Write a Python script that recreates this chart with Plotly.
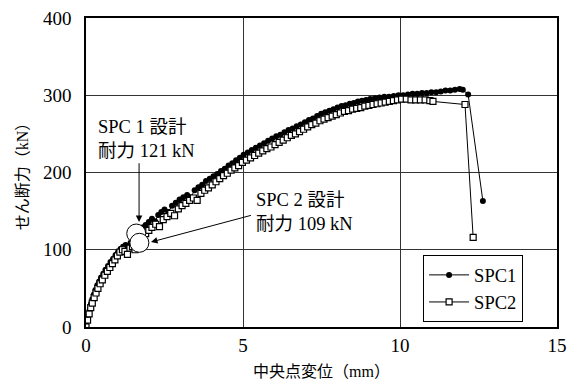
import plotly.graph_objects as go

# ---- data ----
spc1_x = [0.00, 0.04, 0.08, 0.12, 0.16, 0.20, 0.25, 0.30, 0.36, 0.42, 0.48, 0.55, 0.62, 0.70, 0.78,
          0.86, 0.94, 1.02, 1.10, 1.18, 1.26, 1.34, 1.42, 1.50, 1.58, 1.66, 1.74, 1.82, 1.90, 2.00,
          2.10, 2.20, 2.30, 2.40, 2.50, 2.62, 2.74, 2.86, 2.98, 3.10, 3.22, 3.34, 3.46, 3.58, 3.70,
          3.82, 3.94, 4.06, 4.18, 4.30, 4.42, 4.54, 4.66, 4.78, 4.90, 5.02, 5.15, 5.28, 5.41, 5.54,
          5.67, 5.80, 5.93, 6.06, 6.19, 6.32, 6.45, 6.58, 6.71, 6.84, 6.97, 7.10, 7.23, 7.36, 7.49,
          7.62, 7.75, 7.88, 8.01, 8.14, 8.27, 8.40, 8.53, 8.66, 8.79, 8.92, 9.05, 9.20, 9.35, 9.50,
          9.65, 9.80, 9.95, 10.10, 10.25, 10.40, 10.55, 10.70, 10.85, 11.00, 11.15, 11.30, 11.45,
          11.60, 11.75, 11.90, 12.00, 12.17, 12.64]
spc1_y = [0, 8, 16, 23, 30, 36, 42, 48, 54, 59, 64, 69, 74, 79, 84,
          88, 93, 97, 101, 104, 106, 101, 109, 113, 117, 121, 125, 129, 132, 136,
          140, 137, 145, 149, 152, 149, 157, 161, 165, 168, 171, 168, 177, 181, 184,
          189, 192, 195, 198, 202, 205, 209, 212, 216, 219, 223, 226, 229, 232, 235,
          238, 241, 244, 247, 249, 252, 255, 257, 260, 262, 265, 268, 270, 273, 276,
          278, 280, 282, 284, 286, 287, 289, 290, 292, 293, 294, 295, 296, 297, 298,
          298, 299, 300, 300, 301, 302, 302, 303, 303, 304, 304, 305, 306,
          306, 307, 308, 307, 301, 163]

spc2_x = [0.00, 0.05, 0.10, 0.15, 0.20, 0.26, 0.32, 0.38, 0.45, 0.52, 0.60, 0.68, 0.76, 0.84, 0.92,
          1.00, 1.08, 1.16, 1.24, 1.32, 1.40, 1.48, 1.56, 1.64, 1.72, 1.80, 1.90, 2.00, 2.10, 2.22,
          2.34, 2.46, 2.58, 2.70, 2.82, 2.94, 3.06, 3.18, 3.30, 3.42, 3.54, 3.66, 3.78, 3.90, 4.02,
          4.14, 4.26, 4.38, 4.50, 4.62, 4.74, 4.86, 4.98, 5.11, 5.24, 5.37, 5.50, 5.63, 5.76, 5.89,
          6.02, 6.15, 6.28, 6.41, 6.54, 6.67, 6.80, 6.93, 7.06, 7.19, 7.32, 7.45, 7.58, 7.71, 7.84,
          7.97, 8.10, 8.23, 8.36, 8.49, 8.62, 8.75, 8.88, 9.01, 9.14, 9.27, 9.40, 9.53, 9.66, 9.79,
          9.92, 10.05, 10.20, 10.35, 10.50, 10.65, 10.80, 10.95, 11.05, 12.07, 12.33]
spc2_y = [0, 9, 17, 25, 31, 38, 44, 50, 56, 61, 67, 72, 77, 82, 87,
          92, 97, 100, 98, 94, 102, 104, 100, 106, 109, 113, 121, 125, 129, 133,
          130, 139, 143, 147, 144, 153, 157, 160, 164, 167, 164, 173, 177, 180, 184,
          188, 192, 196, 199, 203, 206, 209, 213, 216, 219, 222, 225, 228, 231, 233,
          236, 239, 242, 245, 248, 250, 253, 256, 259, 262, 264, 267, 269, 271, 273,
          275, 277, 279, 280, 282, 283, 284, 286, 287, 288, 289, 290, 291, 292, 293,
          294, 295, 295, 294, 294, 294, 294, 293, 292, 288, 116]

design_x = [1.60, 1.70]
design_y = [121, 109]

x_ticks = [0, 5, 10, 15]
y_ticks = [0, 100, 200, 300, 400]

SERIF = "Liberation Serif, Noto Sans CJK JP, serif"

fig = go.Figure()
fig.add_trace(go.Scatter(
    x=spc1_x, y=spc1_y, mode="lines+markers", name="SPC1",
    line=dict(color="black", width=1),
    marker=dict(symbol="circle", size=6, color="black"),
))
fig.add_trace(go.Scatter(
    x=spc2_x, y=spc2_y, mode="lines+markers", name="SPC2",
    line=dict(color="black", width=1),
    marker=dict(symbol="square", size=6, color="white", line=dict(color="black", width=1.2)),
))
fig.add_trace(go.Scatter(
    x=design_x, y=design_y, mode="markers", showlegend=False, hoverinfo="skip",
    marker=dict(symbol="circle", size=19, color="white", line=dict(color="black", width=1)),
))

annos = [
    dict(x=0.33, y=244, xref="x", yref="y", text="SPC 1 設計<br>耐力 121 kN", showarrow=False,
         xanchor="left", yanchor="middle", align="left"),
    dict(x=5.36, y=149, xref="x", yref="y", text="SPC 2 設計<br>耐力 109 kN", showarrow=False,
         xanchor="left", yanchor="middle", align="left"),
    dict(x=1.69, y=136, ax=1.69, ay=214, xref="x", yref="y", axref="x", ayref="y", text="",
         showarrow=True, arrowhead=2, arrowsize=1.3, arrowwidth=1, arrowcolor="black"),
    dict(x=2.07, y=110, ax=5.3, ay=145, xref="x", yref="y", axref="x", ayref="y", text="",
         showarrow=True, arrowhead=2, arrowsize=1.3, arrowwidth=1, arrowcolor="black"),
]
for a in annos:
    a["font"] = dict(family=SERIF, size=18.5, color="black")
fig.update_layout(annotations=annos)

fig.update_layout(
    width=569, height=382,
    margin=dict(l=86, r=12, t=18, b=55),
    paper_bgcolor="white", plot_bgcolor="white",
    font=dict(family=SERIF, size=19, color="black"),
    showlegend=True,
    legend=dict(x=0.928, xanchor="right", y=0.015, yanchor="bottom",
                bordercolor="black", borderwidth=1, bgcolor="white",
                font=dict(family=SERIF, size=18.5, color="black"),
                tracegroupgap=0, itemwidth=40),
)
fig.update_xaxes(
    range=[0, 15], tickvals=x_ticks, ticktext=[str(v) for v in x_ticks],
    showgrid=True, gridcolor="#333", gridwidth=1, zeroline=False, automargin=False,
    showline=True, mirror=True, linecolor="black", linewidth=1.5, ticks="",
    title=dict(text="中央点変位（mm）", standoff=11, font=dict(size=16)),
)
fig.update_yaxes(
    range=[0, 400], tickvals=y_ticks, ticktext=[str(v) for v in y_ticks],
    showgrid=True, gridcolor="#333", gridwidth=1, zeroline=False, automargin=False,
    showline=True, mirror=True, linecolor="black", linewidth=1.5, ticks="",
    ticklabelstandoff=9,
    title=dict(text="せん断力（kN）", standoff=10, font=dict(size=16)),
)

fig.write_html("out.html")
